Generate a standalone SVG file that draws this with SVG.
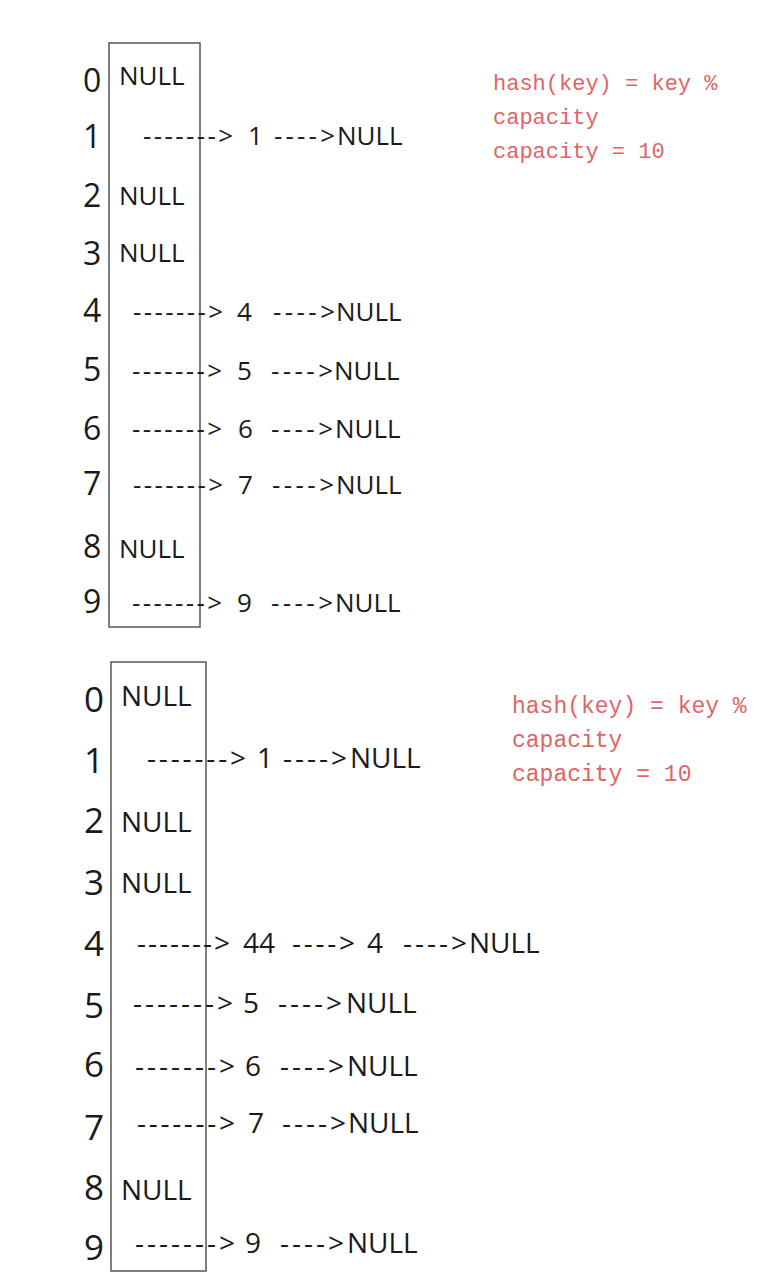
<svg xmlns="http://www.w3.org/2000/svg" width="780" height="1288" viewBox="0 0 780 1288">
<style>
text{font-family:"Open Sans","Noto Sans","DejaVu Sans",sans-serif;fill:#1a1a1a}
.d{font-size:32px}
.t{font-size:26px}
.d2{font-size:35px}
.t2{font-size:28px}
.r{font-family:"Liberation Mono","DejaVu Sans Mono",monospace;fill:#e06464;font-size:22px}
.r2{font-family:"Liberation Mono","DejaVu Sans Mono",monospace;fill:#e06464;font-size:23px}
.box{fill:none;stroke:#555;stroke-width:1.5}
</style>
<rect width="780" height="1288" fill="#ffffff"/>

<g id="table1">
<rect class="box" x="109" y="43" width="91" height="584"/>
<g id="t1-r0"><text class="d" x="83" y="92">0</text><text class="t" x="119" y="85">NULL</text></g>
<g id="t1-r1"><text class="d" x="83" y="148">1</text><text class="t" x="143" y="145" textLength="90" lengthAdjust="spacing">-------&gt;</text><text class="t" x="248" y="145">1</text><text class="t" x="274" y="145" textLength="61" lengthAdjust="spacing">----&gt;</text><text class="t" x="337" y="145">NULL</text></g>
<g id="t1-r2"><text class="d" x="83" y="207">2</text><text class="t" x="119" y="205">NULL</text></g>
<g id="t1-r3"><text class="d" x="83" y="265">3</text><text class="t" x="119" y="262">NULL</text></g>
<g id="t1-r4"><text class="d" x="83" y="322">4</text><text class="t" x="133" y="321" textLength="90" lengthAdjust="spacing">-------&gt;</text><text class="t" x="237" y="321">4</text><text class="t" x="273" y="321" textLength="62" lengthAdjust="spacing">----&gt;</text><text class="t" x="336" y="321">NULL</text></g>
<g id="t1-r5"><text class="d" x="83" y="381">5</text><text class="t" x="132" y="380" textLength="90" lengthAdjust="spacing">-------&gt;</text><text class="t" x="237" y="380">5</text><text class="t" x="271" y="380" textLength="62" lengthAdjust="spacing">----&gt;</text><text class="t" x="334" y="380">NULL</text></g>
<g id="t1-r6"><text class="d" x="83" y="440">6</text><text class="t" x="132" y="438" textLength="90" lengthAdjust="spacing">-------&gt;</text><text class="t" x="238" y="438">6</text><text class="t" x="271" y="438" textLength="62" lengthAdjust="spacing">----&gt;</text><text class="t" x="335" y="438">NULL</text></g>
<g id="t1-r7"><text class="d" x="83" y="495">7</text><text class="t" x="133" y="494" textLength="90" lengthAdjust="spacing">-------&gt;</text><text class="t" x="238" y="494">7</text><text class="t" x="272" y="494" textLength="62" lengthAdjust="spacing">----&gt;</text><text class="t" x="336" y="494">NULL</text></g>
<g id="t1-r8"><text class="d" x="83" y="558">8</text><text class="t" x="119" y="558">NULL</text></g>
<g id="t1-r9"><text class="d" x="83" y="613">9</text><text class="t" x="132" y="612" textLength="90" lengthAdjust="spacing">-------&gt;</text><text class="t" x="237" y="612">9</text><text class="t" x="271" y="612" textLength="62" lengthAdjust="spacing">----&gt;</text><text class="t" x="335" y="612">NULL</text></g>
</g>

<g id="note1">
<text class="r" x="493" y="90">hash(key) = key %</text>
<text class="r" x="493" y="124">capacity</text>
<text class="r" x="493" y="158">capacity = 10</text>
</g>

<g id="table2">
<rect class="box" x="111" y="662" width="95" height="609"/>
<g id="t2-r0"><text class="d2" x="84" y="712">0</text><text class="t2" x="121" y="706">NULL</text></g>
<g id="t2-r1"><text class="d2" x="84" y="773">1</text><text class="t2" x="147" y="768" textLength="99" lengthAdjust="spacing">-------&gt;</text><text class="t2" x="257" y="768">1</text><text class="t2" x="283" y="768" textLength="64" lengthAdjust="spacing">----&gt;</text><text class="t2" x="350" y="768">NULL</text></g>
<g id="t2-r2"><text class="d2" x="84" y="833">2</text><text class="t2" x="121" y="832">NULL</text></g>
<g id="t2-r3"><text class="d2" x="84" y="895">3</text><text class="t2" x="121" y="893">NULL</text></g>
<g id="t2-r4"><text class="d2" x="84" y="956">4</text><text class="t2" x="137" y="953" textLength="93" lengthAdjust="spacing">-------&gt;</text><text class="t2" x="243" y="953">44</text><text class="t2" x="292" y="953" textLength="63" lengthAdjust="spacing">----&gt;</text><text class="t2" x="367" y="953">4</text><text class="t2" x="403" y="953" textLength="64" lengthAdjust="spacing">----&gt;</text><text class="t2" x="469" y="953">NULL</text></g>
<g id="t2-r5"><text class="d2" x="84" y="1018">5</text><text class="t2" x="133" y="1013" textLength="100" lengthAdjust="spacing">-------&gt;</text><text class="t2" x="243" y="1013">5</text><text class="t2" x="278" y="1013" textLength="64" lengthAdjust="spacing">----&gt;</text><text class="t2" x="346" y="1013">NULL</text></g>
<g id="t2-r6"><text class="d2" x="84" y="1077">6</text><text class="t2" x="135" y="1076" textLength="100" lengthAdjust="spacing">-------&gt;</text><text class="t2" x="245" y="1076">6</text><text class="t2" x="280" y="1076" textLength="64" lengthAdjust="spacing">----&gt;</text><text class="t2" x="347" y="1076">NULL</text></g>
<g id="t2-r7"><text class="d2" x="84" y="1140">7</text><text class="t2" x="137" y="1133" textLength="98" lengthAdjust="spacing">-------&gt;</text><text class="t2" x="248" y="1133">7</text><text class="t2" x="282" y="1133" textLength="64" lengthAdjust="spacing">----&gt;</text><text class="t2" x="348" y="1133">NULL</text></g>
<g id="t2-r8"><text class="d2" x="84" y="1200">8</text><text class="t2" x="121" y="1200">NULL</text></g>
<g id="t2-r9"><text class="d2" x="84" y="1260">9</text><text class="t2" x="135" y="1253" textLength="100" lengthAdjust="spacing">-------&gt;</text><text class="t2" x="245" y="1253">9</text><text class="t2" x="280" y="1253" textLength="64" lengthAdjust="spacing">----&gt;</text><text class="t2" x="347" y="1253">NULL</text></g>
</g>

<g id="note2">
<text class="r2" x="512" y="713">hash(key) = key %</text>
<text class="r2" x="512" y="747">capacity</text>
<text class="r2" x="512" y="781">capacity = 10</text>
</g>
</svg>
